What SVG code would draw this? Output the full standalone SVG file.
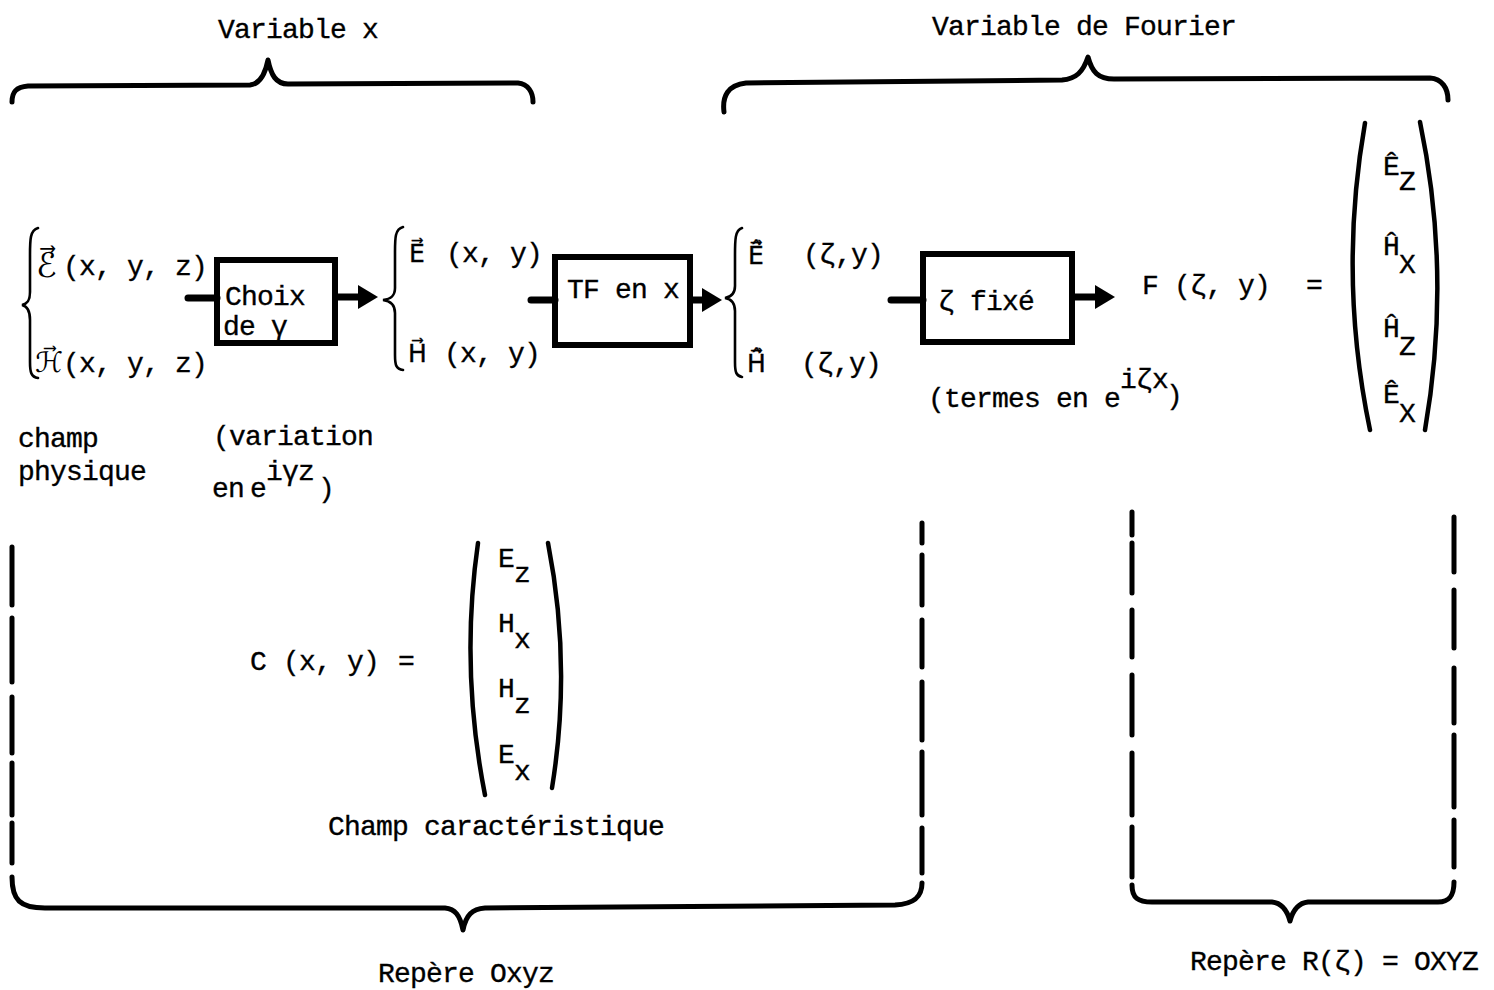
<svg xmlns="http://www.w3.org/2000/svg" width="1494" height="990" viewBox="0 0 1494 990">
<style>
.t{font-family:"Liberation Mono","DejaVu Sans Mono",monospace;font-size:28px;letter-spacing:-0.8px;fill:#000;stroke:#000;stroke-width:0.35px}
.s{font-family:"DejaVu Sans","Noto Sans",sans-serif;font-size:34px;stroke-width:0;letter-spacing:0}
.s2{font-family:"DejaVu Sans","Noto Sans",sans-serif;font-size:28px;stroke-width:0;letter-spacing:0}
.cm{font-family:"DejaVu Sans","Noto Sans",sans-serif;font-size:25px;letter-spacing:0}
.br{fill:none;stroke:#000;stroke-width:5;stroke-linecap:round;stroke-linejoin:round}
.cb{fill:none;stroke:#000;stroke-width:2.6;stroke-linecap:round}
.pa{fill:none;stroke:#000;stroke-width:4.5;stroke-linecap:round}
.box{fill:none;stroke:#000;stroke-width:6}
.sh{stroke:#000;stroke-width:7;stroke-linecap:round;fill:none}
</style>
<defs>
<marker id="head" viewBox="0 0 20 24" markerWidth="20" markerHeight="24" markerUnits="userSpaceOnUse" refX="2" refY="12" orient="auto">
<path d="M0,0 L20,12 L0,24 Z" fill="#000"/>
</marker>
</defs>
<rect width="1494" height="990" fill="#fff"/>

<g id="brace-variable-x">
<text class="t" x="218" y="38">Variable x</text>
<path class="br" d="M12,102 C12,92 16,87 28,86 L250,85 C260,84 265,75 268,60 C271,75 276,84 288,84 L518,83 C528,84 533,92 533,102"/>
</g>

<g id="brace-variable-fourier">
<text class="t" x="932" y="35">Variable de Fourier</text>
<path class="br" d="M724,112 C722,96 728,85 746,83 L1062,80 C1076,79 1083,72 1088,57 C1092,72 1098,79 1114,79 L1430,78 C1442,79 1448,88 1448,100"/>
</g>

<g id="champ-physique">
<path class="cb" d="M38,228 C30,230 30,240 30,255 L30,292 C30,301 27,304 22,305 C27,306 30,310 30,320 L30,362 C30,372 31,377 38,378"/>
<text class="t"><tspan class="s" x="36" y="277">ℰ&#x20D7;</tspan><tspan x="63" y="275">(x, y, z)</tspan></text>
<text class="t"><tspan class="s2" x="35" y="372">ℋ&#x20D7;</tspan><tspan x="63" y="372">(x, y, z)</tspan></text>
<text class="t" x="18" y="447">champ</text>
<text class="t" x="18" y="480">physique</text>
</g>

<g id="box-choix">
<rect class="box" x="217" y="260" width="118" height="83"/>
<text class="t" x="225" y="305">Choix</text>
<text class="t" x="223" y="335">de γ</text>
<text class="t" x="213" y="445">(variation</text>
<text class="t"><tspan x="212" y="497">en</tspan><tspan x="250" y="497">e</tspan><tspan x="266" y="480">iγz</tspan><tspan x="318" y="497">)</tspan></text>
</g>

<g id="champ-xy">
<path class="cb" d="M403,227 C395,229 395,238 395,252 L395,288 C395,296 391,299 383,300 C391,301 395,305 395,313 L395,355 C395,365 396,369 403,370"/>
<text class="t"><tspan class="cm" x="409" y="262">E&#x20D7;</tspan><tspan x="446" y="262">(x, y)</tspan></text>
<text class="t"><tspan class="cm" x="408" y="362">H&#x20D7;</tspan><tspan x="444" y="362">(x, y)</tspan></text>
</g>

<g id="box-tf">
<rect class="box" x="555" y="257" width="135" height="88"/>
<text class="t" x="567" y="298">TF en x</text>
</g>

<g id="champ-fourier">
<path class="cb" d="M742,228 C735,230 735,240 735,255 L735,286 C735,294 731,297 725,298 C731,299 735,303 735,311 L735,362 C735,372 736,376 742,377"/>
<text class="t"><tspan class="cm" x="748" y="264">E&#x20D7;&#x0302;</tspan><tspan x="803" y="263">(ζ,y)</tspan></text>
<text class="t"><tspan class="cm" x="747" y="372">H&#x20D7;&#x0302;</tspan><tspan x="801" y="372">(ζ,y)</tspan></text>
</g>

<g id="box-zeta">
<rect class="box" x="923" y="254" width="149" height="88"/>
<text class="t" x="938" y="310">ζ fixé</text>
<text class="t"><tspan x="928" y="407">(termes en e</tspan><tspan x="1120" y="388">iζx</tspan><tspan x="1166" y="404">)</tspan></text>
</g>

<g id="vecteur-F">
<text class="t" x="1142" y="294">F (ζ, y)</text>
<text class="t" x="1306" y="294">=</text>
<path class="pa" d="M1365,123 Q1338,277 1370,430"/>
<path class="pa" d="M1420,122 Q1452,275 1425,430"/>
<text class="t"><tspan x="1383" y="175">Ê</tspan><tspan x="1399" y="190">Z</tspan></text>
<text class="t"><tspan x="1383" y="255">Ĥ</tspan><tspan x="1399" y="273">X</tspan></text>
<text class="t"><tspan x="1383" y="337">Ĥ</tspan><tspan x="1399" y="355">Z</tspan></text>
<text class="t"><tspan x="1383" y="403">Ê</tspan><tspan x="1399" y="422">X</tspan></text>
</g>

<g id="vecteur-C">
<text class="t" x="250" y="670">C</text>
<text class="t" x="283" y="670">(x, y)</text>
<text class="t" x="398" y="670">=</text>
<path class="pa" d="M478,543 Q460,668 485,795"/>
<path class="pa" d="M548,543 Q572,665 552,788"/>
<text class="t"><tspan x="498" y="567">E</tspan><tspan x="514" y="582">z</tspan></text>
<text class="t"><tspan x="498" y="632">H</tspan><tspan x="514" y="648">x</tspan></text>
<text class="t"><tspan x="498" y="697">H</tspan><tspan x="514" y="713">z</tspan></text>
<text class="t"><tspan x="498" y="763">E</tspan><tspan x="514" y="780">x</tspan></text>
<text class="t" x="328" y="835">Champ caractéristique</text>
</g>

<g id="repere-oxyz">
<path class="br" d="M12,547 V605 M12,618 V682 M12,697 V753 M12,763 V815 M12,823 V863"/>
<path class="br" d="M922,523 V543 M922,555 V605 M922,620 V667 M922,682 V740 M922,752 V815 M922,828 V873"/>
<path class="br" d="M12,877 C12,900 20,908 45,908 L445,908 C455,909 460,915 463,930 C466,915 472,909 485,908 L895,905 C915,904 922,896 922,883"/>
<text class="t" x="378" y="982">Repère Oxyz</text>
</g>

<g id="repere-R">
<path class="br" d="M1132,512 V535 M1132,543 V593 M1132,610 V657 M1132,675 V735 M1132,753 V815 M1132,827 V877"/>
<path class="br" d="M1454,517 V572 M1454,590 V648 M1454,668 V723 M1454,735 V807 M1454,820 V867"/>
<path class="br" d="M1132,885 C1132,898 1138,902 1152,902 L1272,902 C1282,903 1287,910 1290,921 C1293,910 1298,903 1308,902 L1438,902 C1450,902 1454,895 1454,882"/>
<text class="t" x="1190" y="970">Repère R(ζ) = OXYZ</text>
</g>

<g id="connecteurs">
<line class="sh" x1="188" y1="298" x2="217" y2="298"/>
<line class="sh" x1="336" y1="297" x2="360" y2="297" marker-end="url(#head)"/>
<line class="sh" x1="531" y1="300" x2="555" y2="300"/>
<line class="sh" x1="692" y1="300" x2="704" y2="300" marker-end="url(#head)"/>
<line class="sh" x1="891" y1="300" x2="923" y2="300"/>
<line class="sh" x1="1073" y1="297" x2="1097" y2="297" marker-end="url(#head)"/>
</g>
</svg>
